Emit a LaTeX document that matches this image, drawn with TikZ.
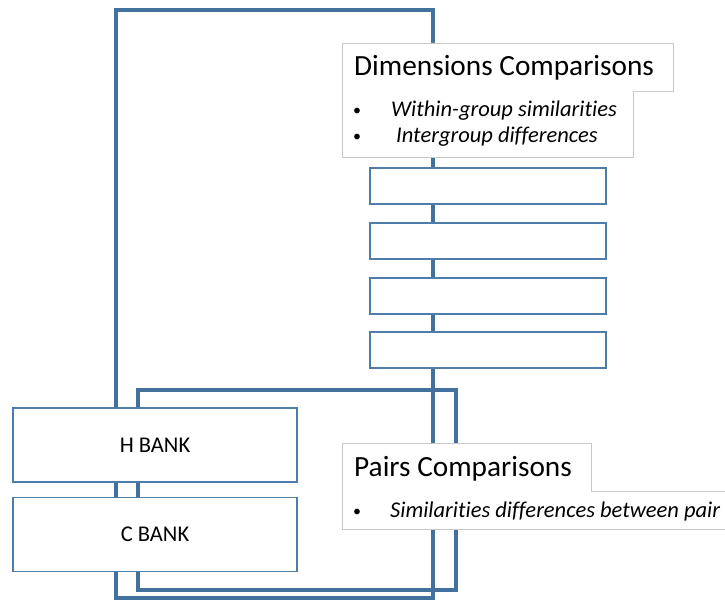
\documentclass[tikz,border=0pt]{standalone}
\usepackage{fontspec}
\setmainfont[Ligatures=NoCommon]{Carlito}
\definecolor{frameblue}{RGB}{66,113,158}
\definecolor{boxblue}{RGB}{79,125,170}
\definecolor{panelgray}{RGB}{200,200,200}
\tikzset{
  loopline/.style={draw=frameblue, line width=3.5pt},
  stagebox/.style={draw=boxblue, line width=1.5pt, fill=white, minimum width=236pt, minimum height=36pt, inner sep=0pt},
  bankbox/.style={draw=boxblue, line width=1.2pt, fill=white, minimum width=284pt, minimum height=74pt, inner sep=0pt, font=\fontsize{22.5}{26}\selectfont},
  panel/.style={draw=panelgray, line width=0.8pt, fill=white},
  heading/.style={font=\fontsize{29.3}{34}\selectfont, anchor=base west, inner sep=0pt},
  item/.style={font=\fontsize{22.5}{26}\selectfont\itshape, anchor=base west, inner sep=0pt},
  dot/.style={font=\fontsize{16}{20}\selectfont, anchor=base west, inner sep=0pt},
}
\begin{document}
\begin{tikzpicture}[x=1pt, y=-1pt]
  \clip (0,0) rectangle (725,601);
  % the two loops behind everything
  \coordinate (outerA) at (116,10);
  \coordinate (outerB) at (433,598);
  \coordinate (innerA) at (138,390);
  \coordinate (innerB) at (456,590);
  \draw[loopline] (outerA) rectangle (outerB);
  \draw[loopline] (innerA) rectangle (innerB);
  % dimensions panel
  \draw[panel] (342,43) -- (673,43) -- (673,91) -- (633,91) -- (633,157) -- (342,157) -- cycle;
  \node[heading] (dimtitle) at (354,76) {Dimensions Comparisons};
  \node[dot] (dimdotA) at (353,116) {•};
  \node[item] (dimitemA) at (391,117) {Within-group similarities};
  \node[dot] (dimdotB) at (353,142) {•};
  \node[item] (dimitemB) at (396,143) {Intergroup differences};
  % empty stages
  \node[stagebox] (stageA) at (488,186) {};
  \node[stagebox] (stageB) at (488,241) {};
  \node[stagebox] (stageC) at (488,296) {};
  \node[stagebox] (stageD) at (488,350) {};
  % banks
  \node[bankbox] (hbank) at (155,445) {H BANK};
  \node[bankbox] (cbank) at (155,534.5) {C BANK};
  % pairs panel
  \draw[panel] (342,443) -- (591,443) -- (591,491) -- (740,491) -- (740,529) -- (342,529) -- cycle;
  \node[heading] (pairtitle) at (354,476) {Pairs Comparisons};
  \node[dot] (pairdot) at (353,516) {•};
  \node[item] (pairitem) at (390,517) {Similarities differences between pair};
\end{tikzpicture}
\end{document}
